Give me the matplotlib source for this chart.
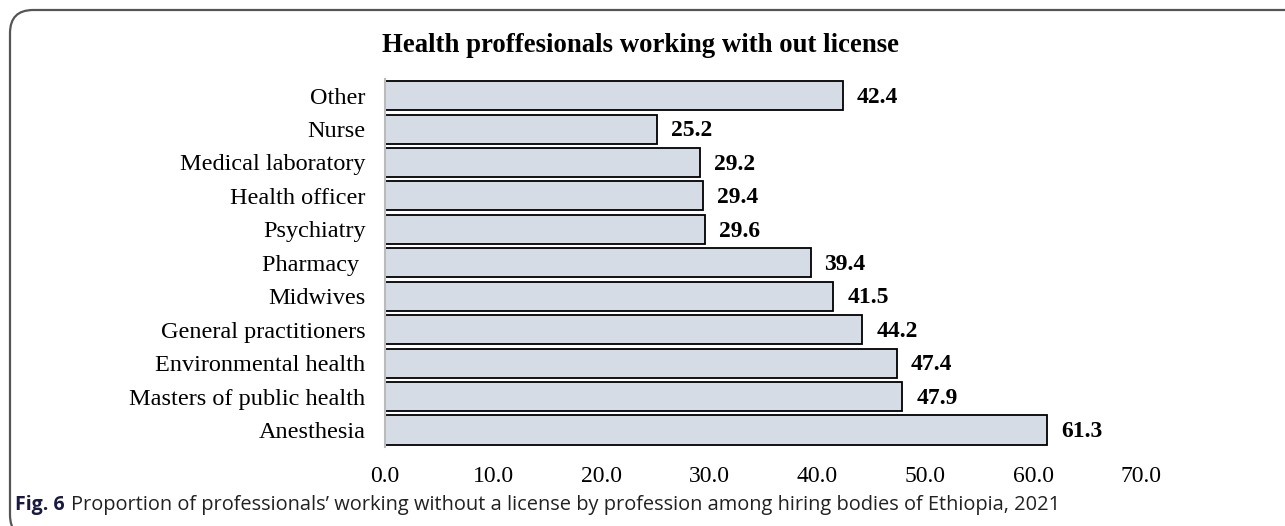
import matplotlib.pyplot as plt
import numpy as np
from matplotlib.patches import FancyBboxPatch

professions = ['Other', 'Nurse', 'Medical laboratory', 'Health officer', 'Psychiatry',
               'Pharmacy ', 'Midwives', 'General practitioners', 'Environmental health',
               'Masters of public health', 'Anesthesia']
percent = [42.4, 25.2, 29.2, 29.4, 29.6, 39.4, 41.5, 44.2, 47.4, 47.9, 61.3]
xticks = [0, 10, 20, 30, 40, 50, 60, 70]

serif = 'Liberation Serif'
W, H = 1285, 526

fig = plt.figure(figsize=(W / 100, H / 100), dpi=100)

# rounded frame round the figure panel (right/bottom edges fall off the image)
frame = FancyBboxPatch((10 / W, -12 / H), 1.5, 1 - 10 / H + 12 / H,
                       boxstyle='round,pad=0,rounding_size=0.018',
                       transform=fig.transFigure, facecolor='none', edgecolor='#555555',
                       linewidth=1.6, mutation_aspect=W / H)
fig.patches.append(frame)

ax = fig.add_axes([385 / W, 0.1508, 810 / W, 0.6992])
y = np.arange(len(professions))
ax.barh(y, percent, height=0.87, color='#d5dce6', edgecolor='black', linewidth=1.3)
ax.set_ylim(len(professions) - 0.5, -0.5)
ax.set_xlim(0, 75)

for yi, v in zip(y, percent):
    ax.text(v + 1.3, yi + 0.05, f'{v:.1f}', va='center', ha='left', fontsize=17,
            fontweight='bold', family=serif)

ax.set_yticks(y)
ax.set_yticklabels(professions, fontsize=17.5, family=serif)
ax.set_xticks(xticks)
ax.set_xticklabels([f'{t:.1f}' for t in xticks], fontsize=17, family=serif)
ax.tick_params(axis='both', length=0)
ax.tick_params(axis='x', pad=14)
ax.tick_params(axis='y', pad=14)
for s in ['top', 'right', 'bottom']:
    ax.spines[s].set_visible(False)
ax.spines['left'].set_color('#bbbbbb')
ax.spines['left'].set_linewidth(1.5)

fig.text(640 / W, 1 - 45 / H, 'Health proffesionals working with out license',
         ha='center', va='center', fontsize=19.3, fontweight='bold', family=serif)

fig.text(15 / W, 1 - 505 / H, 'Fig. 6', ha='left', va='center', fontsize=14,
         fontweight='bold', family='Open Sans', color='#1a1a40')
fig.text(71 / W, 1 - 505 / H,
         "Proportion of professionals\u2019 working without a license by profession among hiring bodies of Ethiopia, 2021",
         ha='left', va='center', fontsize=14.4, family='Open Sans', color='#222222')

fig.savefig('out.png', dpi=100)
